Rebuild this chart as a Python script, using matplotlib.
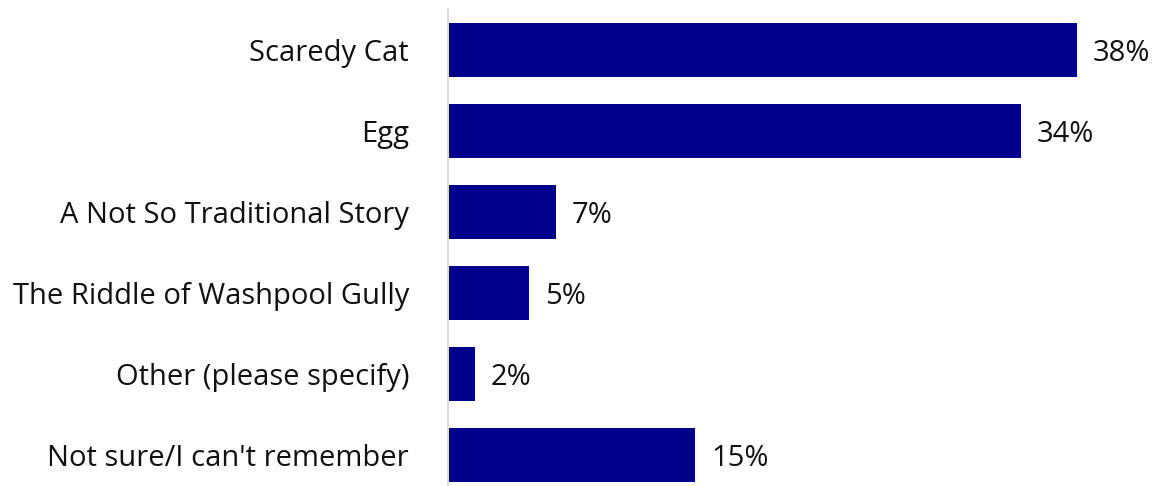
import matplotlib.pyplot as plt

categories = ["Scaredy Cat", "Egg", "A Not So Traditional Story",
              "The Riddle of Washpool Gully", "Other (please specify)",
              "Not sure/I can't remember"]
values = [37.9, 34.5, 6.5, 4.9, 1.6, 14.9]
labels = ["38%", "34%", "7%", "5%", "2%", "15%"]

plt.rcParams["font.family"] = ["Open Sans", "DejaVu Sans"]

fig = plt.figure(figsize=(11.61, 4.86), dpi=100)
ax = fig.add_axes([448 / 1161, 0, 713 / 1161, 477 / 486])

y = range(len(categories))
ax.barh(y, values, height=0.667, color="#00008B")
for i, (v, lab) in enumerate(zip(values, labels)):
    ax.text(v + 0.95, i, lab, va="center_baseline", ha="left", fontsize=21, color="#111111")

ax.set_xlim(0, 713 / 16.6)
ax.set_ylim(5.383, -0.506)
ax.set_yticks(list(y))
ax.set_yticklabels(categories, fontsize=21, color="#111111", va="center_baseline")
ax.tick_params(axis="y", length=0, pad=28)
ax.set_xticks([])
for side in ["top", "right", "bottom"]:
    ax.spines[side].set_visible(False)
ax.spines["left"].set_color("#d9d9d9")
ax.spines["left"].set_linewidth(1.5)

fig.savefig("out.png", dpi=100)
